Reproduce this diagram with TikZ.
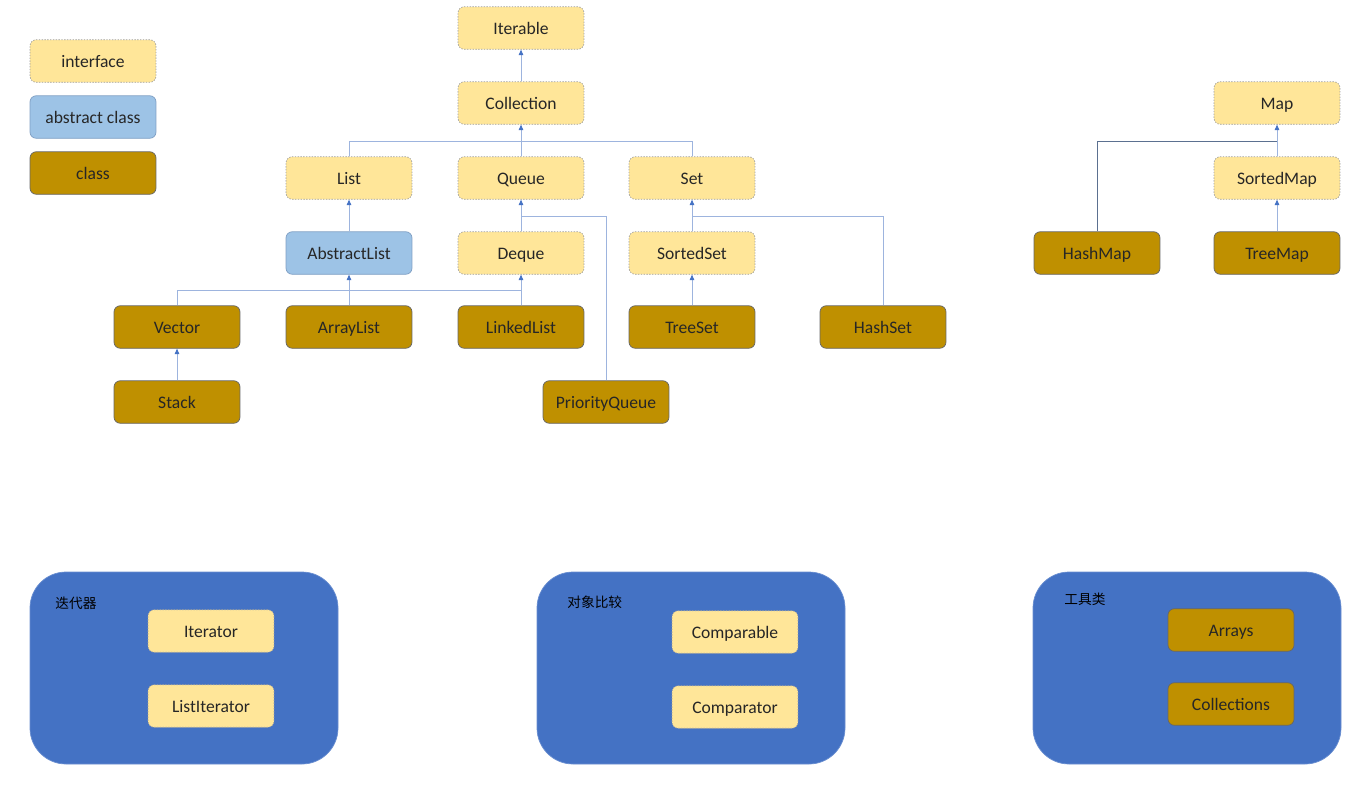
\documentclass[tikz,border=0pt]{standalone}
\usepackage{fontspec}
\setmainfont{Carlito}
\newfontfamily\cjk{Noto Sans CJK SC}
\usetikzlibrary{arrows.meta}

\definecolor{ifill}{HTML}{FFE699}
\definecolor{afill}{HTML}{9DC3E6}
\definecolor{aline}{HTML}{7F9FC4}
\definecolor{cfill}{HTML}{BF9000}
\definecolor{pfill}{HTML}{4472C4}
\definecolor{lblue}{HTML}{9DB4DE}
\definecolor{tipblue}{HTML}{4472C4}
\definecolor{dline}{HTML}{5B7090}
\definecolor{txt}{HTML}{262626}

\begin{document}
\begin{tikzpicture}[x=0.02cm,y=-0.02cm,
    box/.style={rounded corners=3.5pt, minimum width=2.52cm, minimum height=0.85cm,
        font=\fontsize{10}{12}\selectfont, text=txt, inner sep=0pt,
        text height=1.8ex, text depth=0.2ex},
    iface/.style={box, fill=ifill, draw=gray!75, dash pattern=on 0.8pt off 0.8pt, line width=0.4pt},
    abst/.style={box, fill=afill, draw=aline, line width=0.4pt},
    cls/.style={box, fill=cfill, draw=gray!80!black, line width=0.4pt},
    panel/.style={fill=pfill, draw=pfill!80!white, rounded corners=0.72cm},
    plabel/.style={anchor=west, inner sep=0pt, font=\cjk\fontsize{7.8}{9}\selectfont, text=black},
    line/.style={draw=lblue, line width=0.55pt},
    arr/.style={line, -{Triangle[length=1.1mm,width=0.9mm,fill=tipblue,color=tipblue]}}]

\useasboundingbox (0,0) rectangle (1350,802);

% legend
\node[iface] (leginterface) at (93,61) {interface};
\node[abst] (legabstract) at (93,117) {abstract class};
\node[cls] (legclass) at (93,173) {class};

% collection tree
\node[iface] (iterable) at (521,28) {Iterable};
\node[iface] (collection) at (521,103) {Collection};
\node[iface] (list) at (349,178) {List};
\node[iface] (queue) at (521,178) {Queue};
\node[iface] (set) at (692,178) {Set};
\node[abst] (abstractlist) at (349,253) {AbstractList};
\node[iface] (deque) at (521,253) {Deque};
\node[iface] (sortedset) at (692,253) {SortedSet};
\node[cls] (vector) at (177,327) {Vector};
\node[cls] (arraylist) at (349,327) {ArrayList};
\node[cls] (linkedlist) at (521,327) {LinkedList};
\node[cls] (treeset) at (692,327) {TreeSet};
\node[cls] (hashset) at (883,327) {HashSet};
\node[cls] (stack) at (177,402) {Stack};
\node[cls] (priorityqueue) at (606,402) {PriorityQueue};

% map tree
\node[iface] (map) at (1277,103) {Map};
\node[iface] (sortedmap) at (1277,178) {SortedMap};
\node[cls] (hashmap) at (1097,253) {HashMap};
\node[cls] (treemap) at (1277,253) {TreeMap};

% junctions
\coordinate (jcoll) at (521,141);
\coordinate (jqueue) at (521,216);
\coordinate (jset) at (692,216);
\coordinate (jlist) at (521,290);
\coordinate (jmap) at (1277,141);

\draw[arr] (collection.north) -- (iterable.south);
\draw[arr] (queue.north) -- (collection.south);
\draw[line] (list.north) |- (jcoll);
\draw[line] (set.north) |- (jcoll);

\draw[arr] (abstractlist.north) -- (list.south);
\draw[arr] (deque.north) -- (queue.south);
\draw[line] (priorityqueue.north) |- (jqueue);
\draw[arr] (sortedset.north) -- (set.south);
\draw[line] (hashset.north) |- (jset);

\draw[arr] (arraylist.north) -- (abstractlist.south);
\draw[arr] (linkedlist.north) -- (deque.south);
\draw[line] (vector.north) |- (jlist);
\draw[arr] (treeset.north) -- (sortedset.south);
\draw[arr] (stack.north) -- (vector.south);

\draw[arr] (sortedmap.north) -- (map.south);
\draw[line, draw=dline] (hashmap.north) |- (jmap);
\draw[arr] (treemap.north) -- (sortedmap.south);

% bottom panels
\draw[panel] (30,572) rectangle (338,764);
\node[plabel] (iterlabel) at (55,603) {迭代器};
\node[iface] (iterator) at (211,631) {Iterator};
\node[iface] (listiterator) at (211,706) {ListIterator};

\draw[panel] (537,572) rectangle (845,764);
\node[plabel] (cmplabel) at (567,602) {对象比较};
\node[iface] (comparable) at (735,632) {Comparable};
\node[iface] (comparator) at (735,707) {Comparator};

\draw[panel] (1033,572) rectangle (1341,764);
\node[plabel] (toollabel) at (1064,599) {工具类};
\node[cls] (arrays) at (1231,630) {Arrays};
\node[cls] (collections) at (1231,704) {Collections};

\end{tikzpicture}
\end{document}
